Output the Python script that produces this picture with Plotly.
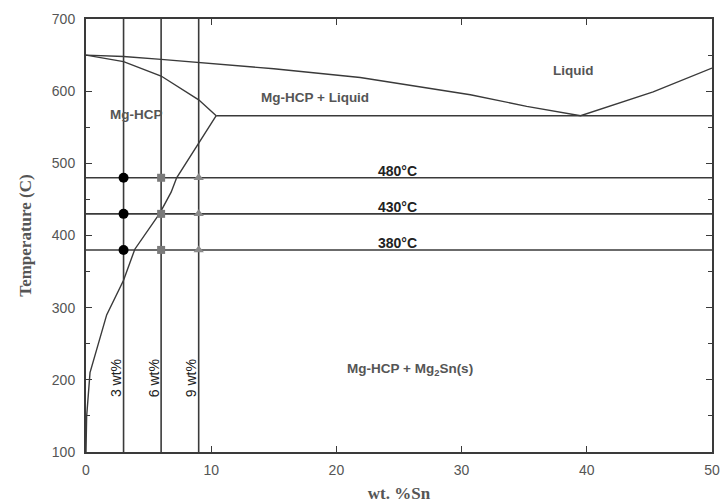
import plotly.graph_objects as go

# Phase boundaries (wt.% Sn, Temperature C)
liquidus_x = [0, 3, 6, 9, 15, 21.9, 27.2, 30.7, 35.2, 39.5, 45.3, 50]
liquidus_T = [650, 648, 644, 640, 631, 619, 605, 595, 579, 566, 599, 632]
solidus_x = [0, 3, 6, 7.5, 9, 10.4]
solidus_T = [650, 641, 621, 605, 588, 566]
solvus_x = [10.4, 9, 7.24, 6.8, 5.9, 3.9, 3, 1.65, 0.98, 0.32, 0.05, 0]
solvus_T = [566, 528, 480, 460, 431, 381, 338, 290, 251, 210, 149, 100]
eutectic_x = [10.4, 50]
eutectic_T = [566, 566]

compositions = [3, 6, 9]
comp_labels = ["3 wt%", "6 wt%", "9 wt%"]
temperatures = [480, 430, 380]
temp_labels = ["480°C", "430°C", "380°C"]

line_col = "#3a3a3a"
fig = go.Figure()

for xs, ts in [(liquidus_x, liquidus_T), (solidus_x, solidus_T),
               (solvus_x, solvus_T), (eutectic_x, eutectic_T)]:
    fig.add_trace(go.Scatter(x=xs, y=ts, mode="lines",
                             line=dict(color=line_col, width=1.4),
                             showlegend=False, hoverinfo="skip"))

# composition vertical lines
for c in compositions:
    fig.add_trace(go.Scatter(x=[c, c], y=[100, 700], mode="lines",
                             line=dict(color=line_col, width=1.6),
                             showlegend=False, hoverinfo="skip"))
# isothermal lines
for t in temperatures:
    fig.add_trace(go.Scatter(x=[0, 50], y=[t, t], mode="lines",
                             line=dict(color=line_col, width=1.6),
                             showlegend=False, hoverinfo="skip"))

# markers
symbols = ["circle", "square", "triangle-up"]
colors = ["#000000", "#7a7a7a", "#8a8a8a"]
sizes = [10, 8, 9]
for c, s, col, sz in zip(compositions, symbols, colors, sizes):
    fig.add_trace(go.Scatter(x=[c] * len(temperatures), y=temperatures, mode="markers",
                             marker=dict(symbol=s, color=col, size=sz),
                             showlegend=False))

# isotherm labels
for t, lab in zip(temperatures, temp_labels):
    fig.add_annotation(x=24.9, y=t, text=f"<b>{lab}</b>", showarrow=False,
                       yanchor="bottom", yshift=-3,
                       font=dict(family="Arial", size=14, color="#222"))

# composition labels
label_x = [2.45, 5.5, 8.45]
for x, lab in zip(label_x, comp_labels):
    fig.add_annotation(x=x, y=202, text=lab, showarrow=False, textangle=-90,
                       font=dict(family="Arial", size=14, color="#222"))

# region labels
regions = [("Mg-HCP", 4.0, 567), ("Mg-HCP + Liquid", 18.3, 591),
           ("Liquid", 38.9, 629), ("Mg-HCP + Mg<sub>2</sub>Sn(s)", 25.9, 214)]
for txt, x, y in regions:
    fig.add_annotation(x=x, y=y, text=f"<b>{txt}</b>", showarrow=False,
                       font=dict(family="Arial", size=13.5, color="#555"))

fig.update_layout(
    width=720, height=503,
    margin=dict(l=86, r=8, t=19, b=51),
    plot_bgcolor="white", paper_bgcolor="white",
    xaxis=dict(range=[0, 50], tickvals=[0, 10, 20, 30, 40, 50],
               ticks="inside", ticklen=6, tickcolor=line_col, mirror="ticks",
               showline=True, linecolor=line_col, linewidth=2,
               showgrid=False, zeroline=False, automargin=False,
               ticklabelstandoff=4, ticklabeloverflow="allow",
               tickfont=dict(family="Arial", size=14, color="#555"),
               title=dict(text="<b>wt. %Sn</b>", standoff=10,
                          font=dict(family="Liberation Serif", size=17, color="#555"))),
    yaxis=dict(range=[100, 700], tickvals=[100, 200, 300, 400, 500, 600, 700],
               ticks="inside", ticklen=6, tickcolor=line_col, mirror="ticks",
               showline=True, linecolor=line_col, linewidth=2,
               showgrid=False, zeroline=False, automargin=False,
               ticklabelstandoff=6,
               minor=dict(dtick=50, ticks="inside", ticklen=4, tickcolor=line_col),
               tickfont=dict(family="Arial", size=14, color="#555"),
               title=dict(text="<b>Temperature (C)</b>", standoff=16,
                          font=dict(family="Liberation Serif", size=17, color="#555"))),
)

fig.write_html("out.html", config={"displayModeBar": False},
               post_script="document.body.style.margin='0';document.body.style.overflow='hidden';")
